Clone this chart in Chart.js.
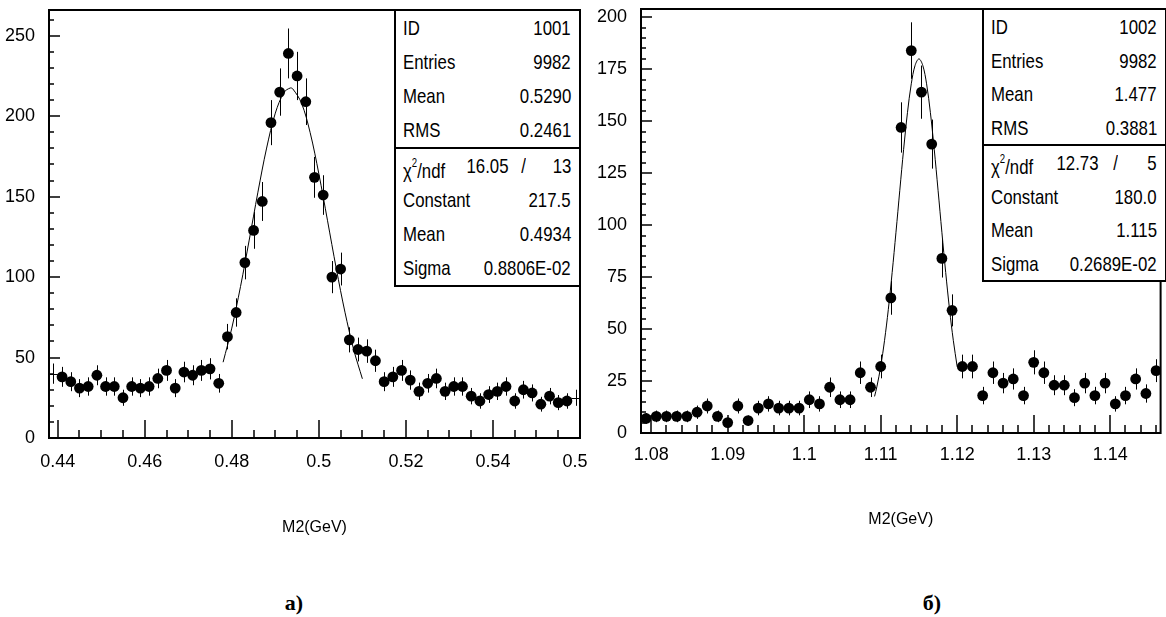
<!DOCTYPE html>
<html>
<head>
<meta charset="utf-8">
<script src="https://cdn.jsdelivr.net/npm/chart.js@4.4.0/dist/chart.umd.min.js"></script>
<style>
body { margin: 0; background: #fff; }
#page { position: relative; width: 1166px; height: 617px; overflow: hidden; background: #fff;
        font-family: 'Liberation Sans', Arial, sans-serif; color: #000; }
canvas { position: absolute; top: 0; }
.stats { position: absolute; box-sizing: border-box; border: 2px solid #000; background: #fff; font-size: 21px; }
.stats .sec + .sec { border-top: 2px solid #000; }
.stats .row { position: relative; }
.stats .row span { position: absolute; top: 0; white-space: nowrap; transform: scaleX(0.8); }
.stats .row span.l { transform-origin: left center; }
.stats .row span.r { transform-origin: right center; }
.stats sup { font-size: 12px; position: relative; top: -3px; }
.cap { position: absolute; font: bold 22px 'Liberation Serif', 'Times New Roman', serif; transform: translate(-50%, -50%); }
</style>
</head>
<body>
<div id="page">
  <canvas id="leftChart" width="588" height="545" style="left:0"></canvas>
  <canvas id="rightChart" width="576" height="545" style="left:590px"></canvas>
  <div class="stats" id="leftStats" style="left:394px; top:9px; width:187px;"></div>
  <div class="stats" id="rightStats" style="left:982px; top:8px; width:185px;"></div>
  <div class="cap" style="left:294px; top:603px;">a)</div>
  <div class="cap" style="left:932px; top:603px;">б)</div>
</div>
<script>
// ---- panel a) : M2 around 0.49 GeV ----
const leftMass = [0.439, 0.441, 0.443, 0.445, 0.447, 0.449, 0.451, 0.453, 0.455, 0.457,
                  0.459, 0.461, 0.463, 0.465, 0.467, 0.469, 0.471, 0.473, 0.475, 0.477,
                  0.479, 0.481, 0.483, 0.485, 0.487, 0.489, 0.491, 0.493, 0.495, 0.497,
                  0.499, 0.501, 0.503, 0.505, 0.507, 0.509, 0.511, 0.513, 0.515, 0.517,
                  0.519, 0.521, 0.523, 0.525, 0.527, 0.529, 0.531, 0.533, 0.535, 0.537,
                  0.539, 0.541, 0.543, 0.545, 0.547, 0.549, 0.551, 0.553, 0.555, 0.557, 0.559];
const leftCounts = [40, 38, 35, 31, 32, 39, 32, 32, 25, 32,
                    31, 32, 37, 42, 31, 41, 39, 42, 43, 34,
                    63, 78, 109, 129, 147, 196, 215, 239, 225, 209,
                    162, 151, 100, 105, 61, 55, 54, 48, 35, 38,
                    42, 36, 29, 34, 37, 29, 32, 32, 26, 23,
                    27, 29, 32, 23, 30, 28, 21, 26, 22, 23, 25];
const leftErrors = [6.3, 6.2, 5.9, 5.6, 5.7, 6.2, 5.7, 5.7, 5.0, 5.7,
                    5.6, 5.7, 6.1, 6.5, 5.6, 6.4, 6.2, 6.5, 6.6, 5.8,
                    7.9, 8.8, 10.4, 11.4, 12.1, 14.0, 14.7, 15.5, 15.0, 14.5,
                    12.7, 12.3, 10.0, 10.2, 7.8, 7.4, 7.3, 6.9, 5.9, 6.2,
                    6.5, 6.0, 5.4, 5.8, 6.1, 5.4, 5.7, 5.7, 5.1, 4.8,
                    5.2, 5.4, 5.7, 4.8, 5.5, 5.3, 4.6, 5.1, 4.7, 4.8, 5.0];
const leftFitMass = [0.478, 0.480, 0.482, 0.484, 0.486, 0.488, 0.490, 0.492, 0.4934, 0.494,
                     0.496, 0.498, 0.500, 0.502, 0.504, 0.506, 0.508, 0.510];
const leftFitCounts = [47.1, 68.3, 94.1, 123.0, 152.8, 180.2, 201.9, 214.8, 217.5, 217.0,
                       208.2, 189.8, 164.2, 135.0, 105.4, 78.2, 55.0, 36.8];
const leftXMajor = [0.44, 0.46, 0.48, 0.5, 0.52, 0.54, 0.56];
const leftYMajor = [0, 50, 100, 150, 200, 250];
const leftStats = [['ID', '1001'], ['Entries', '9982'], ['Mean', '0.5290'], ['RMS', '0.2461']];
const leftChi = ['16.05', '13'];
const leftFit = [['Constant', '217.5'], ['Mean', '0.4934'], ['Sigma', '0.8806E-02']];

// ---- panel б) : M2 around 1.115 GeV ----
const rightMass = [1.07933, 1.08067, 1.08200, 1.08333, 1.08467, 1.08600, 1.08733, 1.08867, 1.09000, 1.09133,
                   1.09267, 1.09400, 1.09533, 1.09667, 1.09800, 1.09933, 1.10067, 1.10200, 1.10333, 1.10467,
                   1.10600, 1.10733, 1.10867, 1.11000, 1.11133, 1.11267, 1.11400, 1.11533, 1.11667, 1.11800,
                   1.11933, 1.12067, 1.12200, 1.12333, 1.12467, 1.12600, 1.12733, 1.12867, 1.13000, 1.13133,
                   1.13267, 1.13400, 1.13533, 1.13667, 1.13800, 1.13933, 1.14067, 1.14200, 1.14333, 1.14467, 1.14600];
const rightCounts = [7, 8, 8, 8, 8, 10, 13, 8, 5, 13,
                     6, 12, 14, 12, 12, 12, 16, 14, 22, 16,
                     16, 29, 22, 32, 65, 147, 184, 164, 139, 84,
                     59, 32, 32, 18, 29, 24, 26, 18, 34, 29,
                     23, 23, 17, 24, 18, 24, 14, 18, 26, 19, 30];
const rightErrors = [2.6, 2.8, 2.8, 2.8, 2.8, 3.2, 3.6, 2.8, 2.2, 3.6,
                     2.4, 3.5, 3.7, 3.5, 3.5, 3.5, 4.0, 3.7, 4.7, 4.0,
                     4.0, 5.4, 4.7, 5.7, 8.1, 12.1, 13.6, 12.8, 11.8, 9.2,
                     7.7, 5.7, 5.7, 4.2, 5.4, 4.9, 5.1, 4.2, 5.8, 5.4,
                     4.8, 4.8, 4.1, 4.9, 4.2, 4.9, 3.7, 4.2, 5.1, 4.4, 5.5];
const rightFitMass = [1.1092, 1.1095, 1.1100, 1.1105, 1.1110, 1.1115, 1.1120, 1.1125, 1.1130, 1.1135,
                      1.1140, 1.1145, 1.1150, 1.1155, 1.1160, 1.1165, 1.1170, 1.1175, 1.1180, 1.1185,
                      1.1190, 1.1195, 1.1200];
const rightFitCounts = [17.6, 22.2, 31.9, 44.4, 59.5, 77.2, 96.6, 116.8, 136.5, 154.1,
                        168.0, 176.9, 180.0, 176.9, 168.0, 154.1, 136.5, 116.8, 96.6, 77.2,
                        59.5, 44.4, 31.9];
const rightXMajor = [1.08, 1.09, 1.1, 1.11, 1.12, 1.13, 1.14];
const rightYMajor = [0, 25, 50, 75, 100, 125, 150, 175, 200];
const rightStats = [['ID', '1002'], ['Entries', '9982'], ['Mean', '1.477'], ['RMS', '0.3881']];
const rightChi = ['12.73', '5'];
const rightFit = [['Constant', '180.0'], ['Mean', '1.115'], ['Sigma', '0.2689E-02']];

const FONT = "'Liberation Sans', Arial, sans-serif";

function onStep(v, s) { const r = v / s; return Math.abs(r - Math.round(r)) < 1e-6; }
function findMajor(v, list) { return list.find(m => Math.abs(m - v) < 1e-7); }

// frame around the plot + inward PAW-style tick marks
const histFrame = {
  id: 'histFrame',
  afterDraw(chart, args, o) {
    const { ctx, chartArea: a, scales: { x, y } } = chart;
    ctx.save();
    ctx.strokeStyle = '#000';
    ctx.lineWidth = 2;
    ctx.strokeRect(a.left, a.top, a.right - a.left, a.bottom - a.top);
    ctx.lineWidth = 1.5;
    ctx.beginPath();
    y.ticks.forEach(t => {
      if (!onStep(t.value, o.yStep)) return;
      const py = Math.round(y.getPixelForValue(t.value));
      const len = findMajor(t.value, o.yMajor) !== undefined ? 11 : 5;
      ctx.moveTo(a.left, py); ctx.lineTo(a.left + len, py);
    });
    x.ticks.forEach(t => {
      if (!onStep(t.value, o.xStep)) return;
      const px = Math.round(x.getPixelForValue(t.value));
      const len = findMajor(t.value, o.xMajor) !== undefined ? 18 : 8;
      ctx.moveTo(px, a.bottom); ctx.lineTo(px, a.bottom - len);
    });
    ctx.stroke();
    ctx.restore();
  }
};

// vertical error bars; bins without a marker get a horizontal bin-width bar
const errorBars = {
  id: 'errorBars',
  beforeDatasetsDraw(chart, args, o) {
    const { ctx, chartArea: a, scales: { x, y } } = chart;
    const ds = chart.data.datasets[0];
    ctx.save();
    ctx.beginPath();
    ctx.rect(a.left, a.top, a.right - a.left, a.bottom - a.top);
    ctx.clip();
    ctx.strokeStyle = '#000';
    ctx.lineWidth = 1;
    ctx.beginPath();
    ds.data.forEach((p, i) => {
      const px = Math.round(x.getPixelForValue(p.x)) + 0.5;
      ctx.moveTo(px, y.getPixelForValue(p.y - p.e));
      ctx.lineTo(px, y.getPixelForValue(p.y + p.e));
      if (o.bare.includes(i)) {
        const py = Math.round(y.getPixelForValue(p.y)) + 0.5;
        ctx.moveTo(x.getPixelForValue(p.x - o.halfBin), py);
        ctx.lineTo(x.getPixelForValue(p.x + o.halfBin), py);
      }
    });
    ctx.stroke();
    ctx.restore();
  }
};

function drawPanel(id, p) {
  const points = p.mass.map((m, i) => ({ x: m, y: p.counts[i], e: p.errors[i] }));
  const fit = p.fitMass.map((m, i) => ({ x: m, y: p.fitCounts[i] }));
  return new Chart(document.getElementById(id), {
    type: 'scatter',
    data: {
      datasets: [
        {
          data: points,
          backgroundColor: '#000',
          borderWidth: 0,
          pointRadius: points.map((_, i) => p.bare.includes(i) ? 0 : 5.4),
          pointHoverRadius: 0
        },
        {
          type: 'line',
          data: fit,
          borderColor: '#000',
          borderWidth: 1,
          pointRadius: 0,
          tension: 0.35,
          fill: false
        }
      ]
    },
    options: {
      responsive: false,
      animation: false,
      events: [],
      layout: { padding: p.pad },
      plugins: {
        legend: { display: false },
        tooltip: { enabled: false },
        histFrame: { xStep: p.xStep, yStep: p.yStep, xMajor: p.xMajor, yMajor: p.yMajor },
        errorBars: { bare: p.bare, halfBin: p.halfBin }
      },
      scales: {
        x: {
          type: 'linear',
          min: p.xMin, max: p.xMax,
          grid: { display: false, drawTicks: false },
          border: { display: false },
          ticks: {
            stepSize: p.xStep, autoSkip: false, maxRotation: 0, includeBounds: false, padding: p.xTickPad,
            color: '#000', font: { family: FONT, size: 18 },
            callback: v => { const m = findMajor(v, p.xMajor); return m === undefined ? '' : String(m); }
          },
          title: { display: true, text: 'M2(GeV)', color: '#000',
                   font: { family: FONT, size: 16 }, padding: { top: 0, bottom: p.titlePad } },
          afterFit: s => { s.height = p.xHeight; s.paddingLeft = 0; s.paddingRight = 0; }
        },
        y: {
          min: 0, max: p.yMax,
          grid: { display: false, drawTicks: false },
          border: { display: false },
          ticks: {
            stepSize: p.yStep, autoSkip: false, includeBounds: false, padding: 14,
            color: '#000', font: { family: FONT, size: 18 },
            callback: v => { const m = findMajor(v, p.yMajor); return m === undefined ? '' : String(m); }
          },
          afterFit: s => { s.width = p.yWidth; s.paddingTop = 0; s.paddingBottom = 0; }
        }
      }
    },
    plugins: [histFrame, errorBars]
  });
}

drawPanel('leftChart', {
  mass: leftMass, counts: leftCounts, errors: leftErrors,
  fitMass: leftFitMass, fitCounts: leftFitCounts,
  xMajor: leftXMajor, yMajor: leftYMajor,
  xMin: 0.438, xMax: 0.560, xStep: 0.005, yMax: 266, yStep: 10,
  bare: [0, leftMass.length - 1], halfBin: 0.001,
  pad: { left: 0, top: 10, right: 8, bottom: 0 },
  yWidth: 49, xHeight: 107, xTickPad: 13, titlePad: 8
});

drawPanel('rightChart', {
  mass: rightMass, counts: rightCounts, errors: rightErrors,
  fitMass: rightFitMass, fitCounts: rightFitCounts,
  xMajor: rightXMajor, yMajor: rightYMajor,
  xMin: 1.07867, xMax: 1.14659, xStep: 0.002, yMax: 204, yStep: 5,
  bare: [], halfBin: 0.000667,
  pad: { left: 0, top: 9, right: 0, bottom: 0 },
  yWidth: 51, xHeight: 112, xTickPad: 11, titlePad: 16
});

// statistics boxes
function fillStats(id, stats, chi, fitRows, rowH, chiPos) {
  const box = document.getElementById(id);
  const rowStyle = `height:${rowH}px;line-height:${rowH}px`;
  const row = (l, r) => `<div class="row" style="${rowStyle}">` +
    `<span class="l" style="left:7px">${l}</span><span class="r" style="right:8px">${r}</span></div>`;
  const chiRow = `<div class="row" style="${rowStyle}">` +
    `<span class="l" style="left:7px">&chi;<sup>2</sup>/ndf</span>` +
    `<span class="r" style="right:${chiPos[0]}px">${chi[0]}</span>` +
    `<span class="r" style="right:${chiPos[1]}px">/</span>` +
    `<span class="r" style="right:8px">${chi[1]}</span></div>`;
  box.innerHTML = '<div class="sec">' + stats.map(s => row(s[0], s[1])).join('') + '</div>' +
    '<div class="sec">' + chiRow + fitRows.map(s => row(s[0], s[1])).join('') + '</div>';
}
fillStats('leftStats', leftStats, leftChi, leftFit, 34, [70, 53]);
fillStats('rightStats', rightStats, rightChi, rightFit, 33.5, [66, 47]);
</script>
</body>
</html>
